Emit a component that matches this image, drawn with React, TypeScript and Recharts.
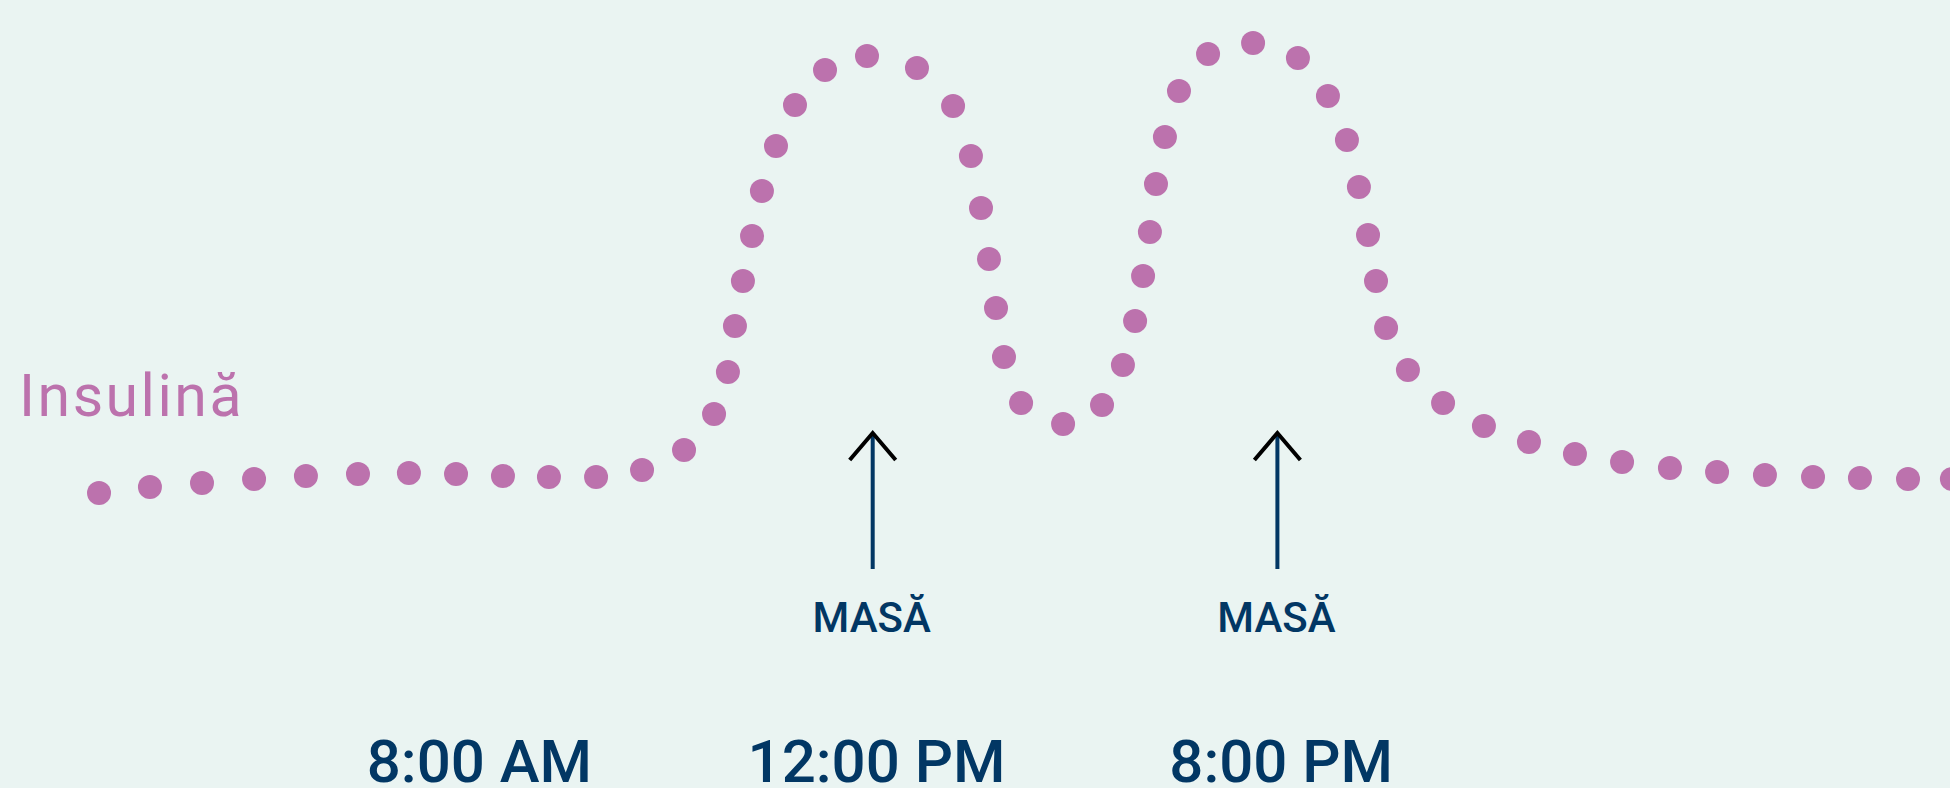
import React from "react";
import { ScatterChart, Scatter, XAxis, YAxis, Customized } from "recharts";

// x: position along the day (0–100, schematic), y: insulin level (0–100)
const insulinX = [
  2.58, 5.26, 8.0, 10.74, 13.47, 16.21, 18.89, 21.37, 23.84, 26.26, 28.74, 31.16,
  33.37, 34.95, 35.68, 36.05, 36.47, 36.95, 37.47, 38.21, 39.21, 40.79, 43.0,
  45.63, 47.53, 48.47, 49.0, 49.42, 49.79, 50.21, 51.11, 53.32, 55.37, 56.47,
  57.11, 57.53, 57.89, 58.21, 58.68, 59.42, 60.95, 63.32, 65.68, 67.26, 68.26,
  68.89, 69.37, 69.79, 70.32, 71.47, 73.32, 75.47, 77.84, 80.26, 82.74, 85.26,
  87.74, 90.26, 92.79, 95.26, 97.79, 100.1,
];
const insulinLevel = [
  7.4, 8.6, 9.4, 10.2, 10.8, 11.2, 11.4, 11.2, 10.8, 10.6, 10.6, 12.0,
  16.0, 23.2, 31.6, 40.8, 49.8, 58.8, 67.8, 76.8, 85.0, 92.0, 94.8,
  92.4, 84.8, 74.8, 64.4, 54.2, 44.4, 34.6, 25.4, 21.2, 25.0, 33.0,
  41.8, 50.8, 59.6, 69.2, 78.6, 87.8, 95.2, 97.4, 94.4, 86.8, 78.0,
  68.6, 59.0, 49.8, 40.4, 32.0, 25.4, 20.8, 17.6, 15.2, 13.6, 12.4,
  11.6, 11.0, 10.6, 10.4, 10.2, 10.2,
];
const mealX = [43.3, 64.6];
const mealLevel = [19.4, 19.4];
const mealLabels = ["MASĂ", "MASĂ"];
const timeTicks = [22.6, 43.5, 64.8];
const timeLabels = ["8:00 AM", "12:00 PM", "8:00 PM"];
const seriesName = "Insulină";

const PINK = "#BC72AD";
const NAVY = "#023764";
const BG = "#EAF4F2";
const FONT = "Roboto, 'Open Sans', sans-serif";

const insulinData = insulinX.map((x, i) => ({ x, y: insulinLevel[i] }));
const mealData = mealX.map((x, i) => ({ x, y: mealLevel[i], label: mealLabels[i] }));

const Dot = (props: any) => {
  const { cx, cy } = props;
  if (cx == null || cy == null) return null;
  return <circle cx={cx} cy={cy} r={12} fill={PINK} />;
};

const MealArrow = (props: any) => {
  const { cx, cy, payload } = props;
  if (cx == null || cy == null) return null;
  return (
    <g>
      <line x1={cx} y1={cy} x2={cx} y2={cy + 136} stroke={NAVY} strokeWidth={4} />
      <polyline
        points={`${cx - 23},${cy + 27} ${cx},${cy} ${cx + 23},${cy + 27}`}
        fill="none"
        stroke="#000"
        strokeWidth={4}
      />
      <text
        x={cx - 1}
        y={cy + 199}
        textAnchor="middle"
        fill={NAVY}
        fontSize={42}
        fontFamily={FONT}
        fontWeight={500}
      >
        {payload.label}
      </text>
    </g>
  );
};

const TimeTick = (props: any) => {
  const { x, y, payload, index } = props;
  return (
    <text
      x={x}
      y={y + 252}
      textAnchor="middle"
      fill={NAVY}
      fontSize={60}
      fontFamily={FONT}
      fontWeight={500}
    >
      {timeLabels[index] ?? String(payload.value)}
    </text>
  );
};

const SeriesTitle = () => (
  <text x={19} y={416} fill={PINK} fontSize={59} fontFamily={FONT} fontWeight={400} letterSpacing={2.5}>
    {seriesName}
  </text>
);

export default function App() {
  return (
    <div style={{ position: "fixed", left: 0, top: 0, width: 1950, height: 788, background: BG }}>
      <ScatterChart
        width={1950}
        height={788}
        margin={{ top: 30, right: 0, bottom: 0, left: 50 }}
        style={{ background: BG }}
      >
        <XAxis
          type="number"
          dataKey="x"
          domain={[0, 100]}
          allowDataOverflow
          ticks={timeTicks}
          tick={<TimeTick />}
          axisLine={false}
          tickLine={false}
          tickSize={0}
          tickMargin={0}
          height={258}
          interval={0}
        />
        <YAxis type="number" dataKey="y" domain={[0, 100]} hide width={0} />
        <Scatter
          name={seriesName}
          data={insulinData}
          shape={<Dot />}
          isAnimationActive={false}
        />
        <Scatter
          name="Masă"
          data={mealData}
          shape={<MealArrow />}
          isAnimationActive={false}
        />
        <Customized component={<SeriesTitle />} />
      </ScatterChart>
    </div>
  );
}
